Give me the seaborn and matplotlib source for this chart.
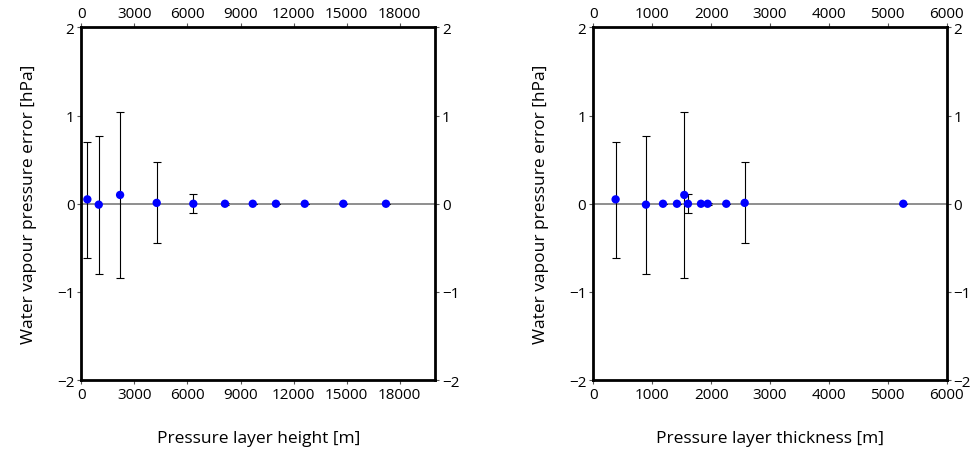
import numpy as np
import pandas as pd
import matplotlib
matplotlib.use("Agg")
import matplotlib.pyplot as plt
import seaborn as sns

# ---- data ----
height = [340, 985, 2190, 4260, 6330, 8120, 9690, 11000, 12630, 14810, 17220]
thickness = [379, 894, 1545, 2570, 1607, 1941, 1183, 1420, 1828, 2258, 5263]
error_mean = [0.05, -0.01, 0.10, 0.01, 0.0, 0.0, 0.0, 0.0, 0.0, 0.0, 0.0]
error_upper = [0.70, 0.77, 1.04, 0.47, 0.11, 0.01, 0.0, 0.0, 0.0, 0.0, 0.0]
error_lower = [-0.61, -0.80, -0.84, -0.45, -0.11, -0.01, 0.0, 0.0, 0.0, 0.0, 0.0]

left_xticks = [0, 3000, 6000, 9000, 12000, 15000, 18000]
right_xticks = [0, 1000, 2000, 3000, 4000, 5000, 6000]
yticks = [-2, -1, 0, 1, 2]

df = pd.DataFrame({"height": height, "thickness": thickness, "err": error_mean,
                   "up": error_upper, "lo": error_lower})

sns.set_theme(style="white")
plt.rcParams['font.family'] = ['Open Sans', 'DejaVu Sans']
plt.rcParams['axes.unicode_minus'] = True
plt.rcParams['text.color'] = 'black'
plt.rcParams['axes.labelcolor'] = 'black'
plt.rcParams['xtick.color'] = 'black'
plt.rcParams['ytick.color'] = 'black'

fig = plt.figure(figsize=(9.8, 4.52), dpi=100)
axL = fig.add_axes([0.083, 0.157, 0.361, 0.780])
axR = fig.add_axes([0.6054, 0.157, 0.3606, 0.780])

def draw(ax, xcol, xlim, xticks, xlabel):
    ax.axhline(0, color="#707070", lw=1.1, zorder=1)
    yerr = np.array([df["err"] - df["lo"], df["up"] - df["err"]])
    ax.errorbar(df[xcol], df["err"], yerr=yerr, fmt="none", ecolor="black",
                elinewidth=0.8, capsize=3, capthick=0.8, zorder=2)
    sns.scatterplot(data=df, x=xcol, y="err", ax=ax, color="#0000ff",
                    s=36, edgecolor="none", zorder=3, legend=False)
    ax.set_xlim(*xlim)
    ax.set_ylim(-2, 2)
    ax.set_xticks(xticks)
    ax.set_xticklabels([str(t) for t in xticks])
    ax.set_yticks(yticks)
    ax.set_yticklabels([str(t).replace("-", "\u2212") for t in yticks])
    ax.tick_params(axis="both", which="both", direction="out", length=3, width=0.8,
                   color="#555555", labelcolor="black", labelsize=11, pad=2,
                   top=True, bottom=True, left=True, right=True,
                   labeltop=True, labelbottom=True, labelleft=True, labelright=True)
    for s in ax.spines.values():
        s.set_color("black")
        s.set_linewidth(2)
        s.set_visible(True)
    ax.set_xlabel(xlabel, fontsize=12.5, color="black")
    ax.set_ylabel("Water vapour pressure error [hPa]", fontsize=12.5, color="black")
    ax.xaxis.set_label_coords(0.5, -0.142)
    ax.yaxis.set_label_coords(-0.125, 0.5)

draw(axL, "height", (0, 20000), left_xticks, "Pressure layer height [m]")
draw(axR, "thickness", (0, 6000), right_xticks, "Pressure layer thickness [m]")

fig.savefig("out.png", dpi=100)
